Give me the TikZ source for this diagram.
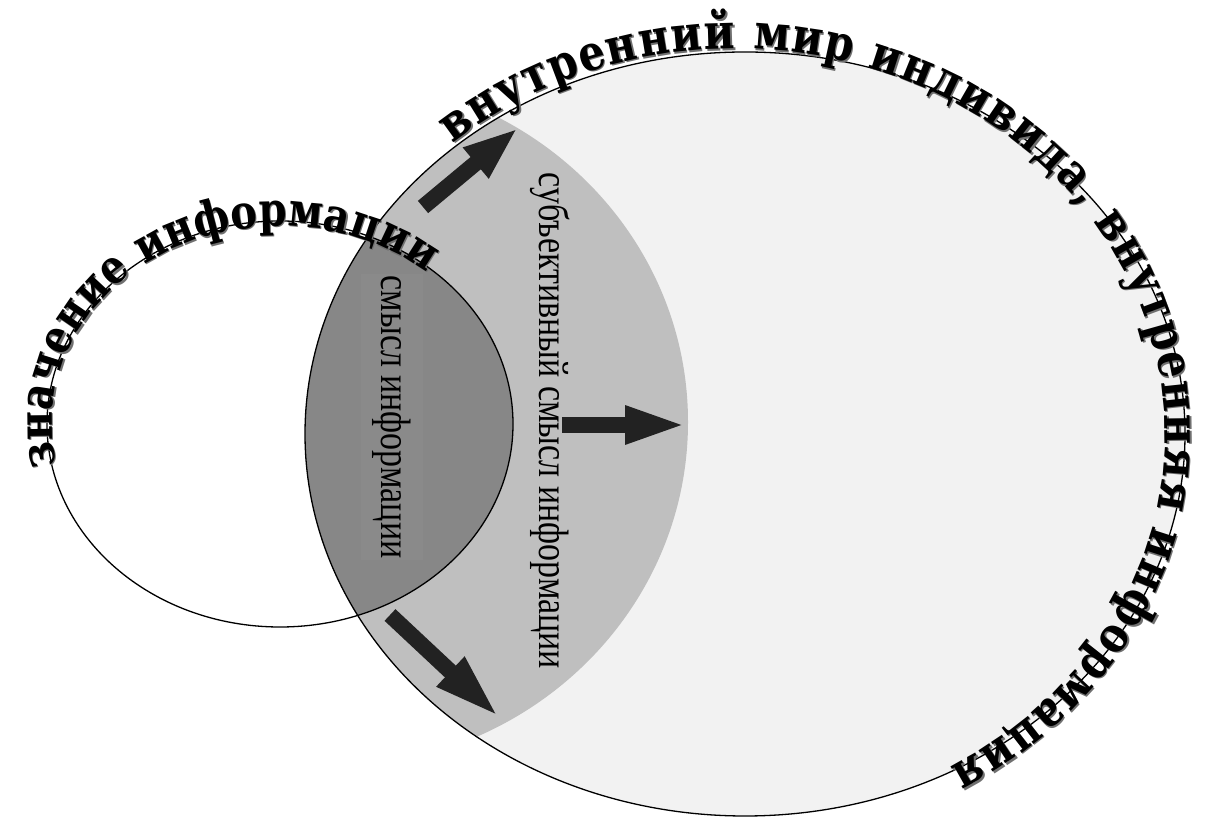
\documentclass[tikz,border=0pt]{standalone}
\usepackage{fontspec}
\setmainfont{Liberation Serif}
\newfontfamily\artfont{DejaVu Serif}[FakeStretch=0.85]
\usetikzlibrary{arrows.meta,decorations.text}
\definecolor{lightfill}{HTML}{F2F2F2}
\definecolor{midfill}{HTML}{BFBFBF}
\definecolor{darkfill}{HTML}{878787}
\definecolor{boxfill}{HTML}{8A8A8A}
\definecolor{arrowc}{HTML}{222222}
\definecolor{shadowc}{HTML}{707070}
\tikzset{
  outline/.style={draw=black, line width=1.3pt},
  blockarrow/.style={draw=arrowc, line width=16pt},
  vlabel/.style={rotate=-90, yscale=1.25, inner sep=2pt, font=\fontsize{34}{34}\selectfont},
  arttext/.style={decorate, decoration={text along path, text align=fit to path, raise=#1}}
}
\begin{document}
\begin{tikzpicture}[x=1pt, y=1pt]
\useasboundingbox (0,0) rectangle (1206,818);
% large ellipse (inner world)
\fill[lightfill] (745,384) ellipse [x radius=440, y radius=382];
\begin{scope}
  \clip (745,384) ellipse [x radius=440, y radius=382];
  \fill[midfill] (330,396) ellipse [x radius=358, y radius=345];
  \fill[darkfill] (280,394) ellipse [x radius=233, y radius=203];
\end{scope}
\node[vlabel, fill=boxfill, minimum height=50pt] (smysl) at (392,401) {смысл информации};
\node[vlabel] (subj) at (550,397) {субъективный смысл информации};
% outlines
\draw[outline] (280,394) ellipse [x radius=233, y radius=203];
\draw[outline] (745,384) ellipse [x radius=440, y radius=382];
% block arrows
\coordinate (a1s) at (423,611); \coordinate (a1e) at (518,690);
\coordinate (a2s) at (562,393); \coordinate (a2e) at (688,393);
\coordinate (a3s) at (390,203); \coordinate (a3e) at (500,100);
\draw[blockarrow, -{Triangle[length=55pt,width=36pt]}] (a1s) -- (a1e);
\draw[blockarrow, -{Triangle[length=63pt,width=34pt]}] (a2s) -- (a2e);
\draw[blockarrow, -{Triangle[length=68pt,width=36pt]}] (a3s) -- (a3e);
% curved texts (shadow, then black)
\foreach \dx/\dy/\col in {1.4/-1.4/shadowc, 0/0/black} {
  \path[xshift=\dx pt, yshift=\dy pt, arttext=3pt, decoration={text={|\artfont\bfseries\fontsize{49}{49}\selectfont\color{\col}|внутренний мир индивида, внутренняя информация}}]
    (735,384) ++(131:427 and 382) arc[start angle=131, end angle=-60, x radius=427, y radius=382];
  \path[xshift=\dx pt, yshift=\dy pt, arttext=-5pt, decoration={text={|\artfont\bfseries\fontsize{47}{47}\selectfont\color{\col}|значение информации}}]
    (280,394) ++(192:233 and 203) arc[start angle=192, end angle=50, x radius=233, y radius=203];
}
\end{tikzpicture}
\end{document}
